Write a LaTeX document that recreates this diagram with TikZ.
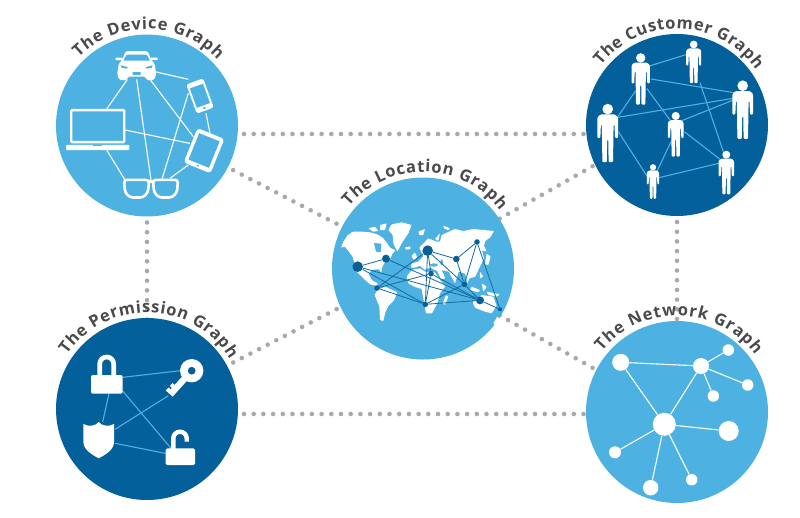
\documentclass[tikz,border=0pt]{standalone}
\usepackage{fontspec}
\setmainfont{Open Sans}
\usetikzlibrary{calc,backgrounds,decorations.text}
\definecolor{skyblue}{HTML}{4DB1E2}
\definecolor{deepblue}{HTML}{03609A}
\definecolor{dotgray}{HTML}{A9A9AD}
\definecolor{labelgray}{HTML}{4A4A4C}
\definecolor{cityblue}{HTML}{0A5F96}
\tikzset{
  hub/.style={circle, draw=none, minimum size=182pt, inner sep=0pt},
  dotlink/.style={draw=dotgray, line width=4.6pt, line cap=round, dash pattern=on 0pt off 9.7pt},
  whiteedge/.style={draw=white, line width=1.1pt},
  blueedge/.style={draw=skyblue, line width=1.1pt},
  cityedge/.style={draw=cityblue!85!skyblue, line width=.8pt},
  city/.style={circle, fill=cityblue, inner sep=0pt},
  netnode/.style={circle, fill=white, inner sep=0pt},
  carpic/.pic={
    \fill[white, rounded corners=1.5pt] (-11,-14.5) -- (11,-14.5) -- (15,-5) -- (18,-2) -- (19.5,9) -- (17,14.5) -- (10,14.5) -- (9,11) -- (-9,11) -- (-10,14.5) -- (-17,14.5) -- (-19.5,9) -- (-18,-2) -- (-15,-5) -- cycle;
    \fill[white, rounded corners=.5pt] (-21,-8) rectangle (-14,-5.5) (14,-8) rectangle (21,-5.5);
    \fill[skyblue, rounded corners=.8pt] (-10,-11) -- (10,-11) -- (13.5,-5) -- (-13.5,-5) -- cycle;
    \fill[skyblue] (-16,-.5) -- (-9,1.5) -- (-10,3) -- (-15,2) -- cycle (16,-.5) -- (9,1.5) -- (10,3) -- (15,2) -- cycle (-4,6.5) rectangle (4,9.5);
  },
  phonepic/.pic={
    \fill[white, rounded corners=2.5pt] (-9,-15.5) rectangle (9,15.5);
    \fill[skyblue] (-7,-10.5) rectangle (7,10);
    \fill[skyblue] (0,12.8) circle[radius=1.3];
  },
  tabletpic/.pic={
    \fill[white, rounded corners=3pt] (-14.5,-18.5) rectangle (14.5,18.5);
    \fill[skyblue] (-11,-14.5) rectangle (11,14);
    \fill[skyblue] (0,16.2) circle[radius=1];
  },
  laptoppic/.pic={
    \draw[white, line width=2.4pt, fill=skyblue, rounded corners=1pt] (-26.5,-19.2) rectangle (26.5,12.8);
    \fill[white, rounded corners=1pt] (-31.7,15.5) rectangle (31.7,20.7);
    \fill[skyblue] (-4.5,15.5) rectangle (4.5,16.6);
  },
  glassespic/.pic={
    \draw[white, line width=2.6pt, fill=skyblue, rounded corners=3pt] (-27,-8.5) -- (-2,-8.5) -- (-3,4) -- (-8,9.2) -- (-21,9.2) -- (-26,4) -- cycle;
    \draw[white, line width=2.6pt, fill=skyblue, rounded corners=3pt] (27,-8.5) -- (2,-8.5) -- (3,4) -- (8,9.2) -- (21,9.2) -- (26,4) -- cycle;
    \draw[white, line width=2.6pt] (-2,-7) -- (2,-7);
  },
  personpic/.pic={
    \fill[white] (0,-.40) circle[radius=.09];
    \fill[white, rounded corners=1pt] (-.12,-.31) -- (.12,-.31) -- (.175,-.26) -- (.175,.09) -- (.125,.09) -- (.115,-.14) -- (.10,-.14) -- (.09,.5) -- (.015,.5) -- (.01,.12) -- (-.01,.12) -- (-.015,.5) -- (-.09,.5) -- (-.10,-.14) -- (-.115,-.14) -- (-.125,.09) -- (-.175,.09) -- (-.175,-.26) -- cycle;
  },
  lockpic/.pic={
    \draw[white, line width=4.7pt] (-7,2) -- (-7,-11) arc[start angle=180, end angle=360, radius=7] -- (7,2);
    \fill[white, rounded corners=2pt] (-15.7,0) rectangle (16,18.7);
  },
  openlockpic/.pic={
    \draw[white, line width=4.4pt] (-7,-6) -- (-7,-18.3) arc[start angle=180, end angle=360, radius=6.7] -- (6.4,-15);
    \fill[white, rounded corners=1.5pt] (-14.7,-8.3) rectangle (14.7,8.3);
  },
  keypic/.pic={
    \fill[white, even odd rule] (0,0) circle[radius=11.7] (0,0) circle[radius=4];
    \begin{scope}[rotate=228]
      \fill[white] (9,-3.2) -- (32,-3.2) -- (32,6) -- (28,6) -- (28,3.2) -- (26,3.2) -- (26,6) -- (22,6) -- (22,3.2) -- (9,3.2) -- cycle;
    \end{scope}
  },
  shieldpic/.pic={
    \fill[white] (0,-18) .. controls (-3,-14) and (-10,-13) .. (-15.3,-16) -- (-15.3,2) .. controls (-15.3,10) and (-6,15) .. (0,18.3) .. controls (6,15) and (15.3,10) .. (15.3,2) -- (15.3,-16) .. controls (10,-13) and (3,-14) .. (0,-18) -- cycle;
  }
}
\newcommand{\graphlabel}[4]{
  \path[decorate, decoration={text along path, text align=fit to path, text={|\fontsize{16.5}{16.5}\selectfont\bfseries\color{labelgray}|#4}}]
    (#1) ++(#2:96.5) arc[start angle=#2, end angle=#3, radius=96.5];
}
\begin{document}
\begin{tikzpicture}[x=1pt, y=-1pt]
  \useasboundingbox (0,0) rectangle (800,517);

  \node[hub, fill=skyblue] (device) at (147,125.5) {};
  \node[hub, fill=deepblue] (customer) at (677,125) {};
  \node[hub, fill=skyblue] (location) at (423,268.5) {};
  \node[hub, fill=deepblue] (permission) at (147,409) {};
  \node[hub, fill=skyblue] (network) at (677,412) {};

  \begin{scope}[on background layer]
    \foreach \a/\ax/\ay/\b/\bx/\by in {
      device/0/8.5/customer/0/9, device/0/0/permission/0/0, customer/0/0/network/0/0,
      permission/0/5/network/0/2, device/0/0/location/0/0, customer/0/-6.5/location/0/-6.5,
      permission/0/-2/location/0/-4, network/0/3.5/location/0/3.5}
      \draw[dotlink] ($(\a)+(\ax,\ay)$) -- ($(\b)+(\bx,\by)$);
  \end{scope}

  % device graph
  \coordinate (car) at (136.7,65.7);
  \coordinate (phone) at (200,96);
  \coordinate (tablet) at (204,150.7);
  \coordinate (laptop) at (97.7,129.3);
  \coordinate (glasses) at (151,188.3);
  \foreach \a/\ax/\ay/\b/\bx/\by in {
    car/18.3/6/phone/-11.7/-16.7, car/-9.3/13.7/laptop/9/-20.3, car/0/13.7/glasses/0/-8.3,
    car/13.3/13.7/tablet/-10.7/-14, phone/-11.7/-2.7/glasses/10.7/-8.3, phone/6/17.3/tablet/6/-17.3,
    laptop/27.3/.7/tablet/-14/-7.3, laptop/9/20.7/glasses/-26/-8.3, tablet/-15.7/14.3/glasses/19/-10}
    \draw[whiteedge] ($(\a)+(\ax,\ay)$) -- ($(\b)+(\bx,\by)$);
  \pic at (car) {carpic};
  \pic[rotate=20] at (phone) {phonepic};
  \pic[rotate=-22] at (tablet) {tabletpic};
  \pic at (laptop) {laptoppic};
  \pic at (glasses) {glassespic};

  % customer graph
  \coordinate (man1) at (640.7,78.7);
  \coordinate (man2) at (693.7,61.7);
  \coordinate (man3) at (742.7,109.3);
  \coordinate (man4) at (607.7,132.7);
  \coordinate (man5) at (675.7,134);
  \coordinate (man6) at (653,181.3);
  \coordinate (man7) at (726.3,172.3);
  \foreach \a/\ax/\ay/\b/\bx/\by in {
    man1/8.7/-12.7/man2/-7/-7.3, man1/10.3/.3/man3/-9.3/-16.7, man1/-5/12/man4/9.7/-15.3,
    man1/6/9.7/man5/-5.7/-14, man2/6.3/21/man7/-3/-20.7, man3/-9.3/-11/man4/9.7/-15.3,
    man3/-9.3/-9.3/man5/6/-13.3, man4/10.7/-1/man6/-5.7/-4.7, man5/-4.7/7.7/man6/3/-8,
    man5/8.7/-2.3/man7/-6.3/-13, man6/6.3/-3.7/man7/-7.3/-9}
    \draw[blueedge] ($(\a)+(\ax,\ay)$) -- ($(\b)+(\bx,\by)$);
  \foreach \a/\h in {man1/52, man2/43, man3/59, man4/59, man5/45, man6/35, man7/44}
    \pic[scale=\h] at (\a) {personpic};

  % location graph
  \begin{scope}[shift={(340,215)}, x=.3333pt, y=-.3333pt]
    \fill[white, rounded corners=.6pt]
      (3,98) -- (10,80) -- (22,62) -- (38,50) -- (65,50) -- (90,52) -- (112,58) -- (128,68) -- (142,85) -- (150,98) -- (166,106) -- (156,118) -- (152,130) -- (134,142) -- (126,158) -- (124,174) -- (116,162) -- (96,165) -- (86,176) -- (96,196) -- (113,205) -- (112,213) -- (90,208) -- (70,190) -- (50,170) -- (38,125) -- (15,95) -- cycle
      (85,40) -- (105,35) -- (115,48) -- (100,50) -- cycle
      (120,30) -- (140,25) -- (135,45) -- (120,45) -- cycle
      (145,45) -- (155,28) -- (185,22) -- (215,30) -- (205,55) -- (185,85) -- (172,110) -- (160,85) -- (158,60) -- cycle
      (195,97) -- (210,94) -- (212,102) -- (198,104) -- cycle
      (215,122) -- (225,112) -- (232,128) -- (220,135) -- cycle
      (235,50) -- (255,42) -- (250,60) -- (238,60) -- cycle
      (310,32) -- (330,40) -- (325,46) -- (312,40) -- cycle
      (285,72) -- (300,55) -- (295,78) -- cycle
      (112,225) -- (135,215) -- (172,232) -- (162,256) -- (146,272) -- (136,292) -- (130,318) -- (120,315) -- (118,275) -- (104,240) -- cycle
      (200,185) -- (215,165) -- (240,160) -- (255,170) -- (285,172) -- (300,195) -- (316,214) -- (300,235) -- (292,265) -- (276,295) -- (258,295) -- (250,250) -- (245,222) -- (225,216) -- (205,205) -- cycle
      (213,158) -- (215,145) -- (235,140) -- (250,124) -- (238,98) -- (265,70) -- (290,80) -- (300,80) -- (305,60) -- (345,42) -- (370,48) -- (400,42) -- (462,48) -- (452,66) -- (436,78) -- (432,92) -- (440,110) -- (426,106) -- (432,130) -- (422,150) -- (406,185) -- (388,190) -- (382,205) -- (376,176) -- (356,170) -- (345,205) -- (326,170) -- (305,165) -- (316,190) -- (303,193) -- (292,168) -- (270,158) -- (255,165) -- (240,152) -- (225,158) -- cycle
      (440,115) -- (452,125) -- (445,150) -- (435,148) -- cycle
      (395,215) -- (420,225) -- (415,232) -- (390,225) -- cycle
      (425,205) -- (440,215) -- (430,230) -- cycle
      (440,230) -- (480,238) -- (470,245) -- (445,240) -- cycle
      (420,170) -- (430,185) -- (420,190) -- cycle
      (398,262) -- (425,240) -- (460,245) -- (470,272) -- (455,295) -- (435,290) -- (405,278) -- cycle
      (472,305) -- (480,312) -- (465,330) -- (460,325) -- cycle
      (318,240) -- (325,245) -- (315,270) -- (308,265) -- cycle;
    \fill[skyblue, rounded corners=.6pt] (102,84) -- (124,86) -- (122,112) -- (108,110) -- cycle;
    \fill[skyblue] (282,150) circle[x radius=12, y radius=5] (305,142) circle[x radius=4, y radius=9];
    \node[city, minimum size=10.6pt] (city1) at (53,155) {};
    \node[city, minimum size=8pt] (city2) at (138,131) {};
    \node[city, minimum size=5.6pt] (city3) at (111,219) {};
    \node[city, minimum size=10.6pt] (city4) at (263,107) {};
    \node[city, minimum size=5.6pt] (city5) at (273,176) {};
    \node[city, minimum size=5.6pt] (city6) at (256,268) {};
    \node[city, minimum size=6.6pt] (city7) at (349,132) {};
    \node[city, minimum size=5.6pt] (city8) at (411,81) {};
    \node[city, minimum size=5.6pt] (city9) at (373,208) {};
    \node[city, minimum size=8pt] (city10) at (420,256) {};
    \node[city, minimum size=4pt] (city11) at (480,283) {};
  \end{scope}
  \foreach \a/\b in {1/2, 1/6, 1/10, 2/10, 3/4, 3/5, 3/6, 4/5, 4/6, 5/6, 4/7, 4/9, 5/10, 6/9, 6/10, 7/8, 7/9, 8/9, 8/11, 9/10, 10/11}
    \draw[cityedge] (city\a) -- (city\b);

  % permission graph
  \coordinate (padlock) at (106.7,375);
  \coordinate (doorkey) at (191.7,370.7);
  \coordinate (shield) at (98.7,440);
  \coordinate (openlock) at (180.3,456.7);
  \foreach \a/\ax/\ay/\b/\bx/\by in {
    padlock/16/2.3/doorkey/-11.7/0, padlock/2.3/18.7/shield/4/-18.3, padlock/16/16/openlock/-8.7/-7.7,
    doorkey/-23.3/25/shield/16.3/-10.7, shield/16.3/3.3/openlock/-14.7/-3.3}
    \draw[blueedge] ($(\a)+(\ax,\ay)$) -- ($(\b)+(\bx,\by)$);
  \pic at (padlock) {lockpic};
  \pic at (doorkey) {keypic};
  \pic at (shield) {shieldpic};
  \pic at (openlock) {openlockpic};

  % network graph
  \foreach \n/\x/\y/\d in {n1/620.7/362.3/17, n2/701/366/16, n3/728.3/350/11.5, n4/747.7/385/11.5, n5/713.3/396/11.5,
    n6/664.3/424.3/23, n7/728.7/431/20, n8/615/452.3/12, n9/650.7/487.7/15.5, n10/691.7/479.7/11.5}
    \node[netnode, minimum size=\d pt] (\n) at (\x,\y) {};
  \foreach \a/\b in {n1/n2, n1/n6, n2/n3, n2/n4, n2/n5, n2/n6, n6/n7, n6/n8, n6/n9, n6/n10}
    \draw[whiteedge] (\a) -- (\b);

  \graphlabel{device}{-135}{-43}{The Device Graph}
  \graphlabel{customer}{-142}{-35}{The Customer Graph}
  \graphlabel{location}{-140}{-37}{The Location Graph}
  \graphlabel{permission}{-146}{-31}{The Permission Graph}
  \graphlabel{network}{-141}{-36}{The Network Graph}
\end{tikzpicture}
\end{document}
